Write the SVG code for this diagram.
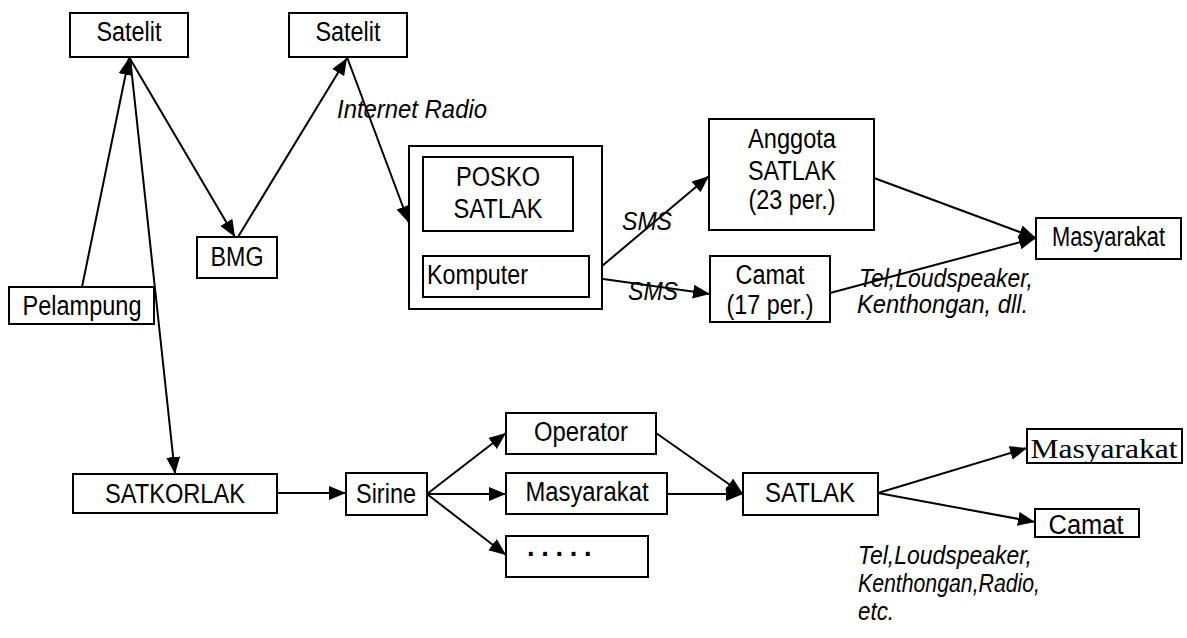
<svg xmlns="http://www.w3.org/2000/svg" width="1187" height="638" viewBox="0 0 1187 638">
  <style>
    .box { fill: #fff; stroke: #000; stroke-width: 2; }
    .t { font-family: "Liberation Sans", Arial, sans-serif; font-size: 27px; fill: #000; text-anchor: middle; }
    .ts { font-family: "Liberation Serif", "Times New Roman", serif; font-size: 28px; fill: #000; text-anchor: middle; }
    .lbl { font-family: "Liberation Sans", Arial, sans-serif; font-size: 25px; font-style: italic; fill: #000; }
    .dots { font-family: "Liberation Sans", Arial, sans-serif; font-size: 27px; font-weight: bold; fill: #000; }
    .edge { stroke: #000; stroke-width: 2; fill: none; marker-end: url(#arrow); }
  </style>
  <defs>
    <marker id="arrow" markerUnits="userSpaceOnUse" markerWidth="18" markerHeight="15" refX="17" refY="7" orient="auto">
      <path d="M0,0 L17,7 L0,14 z" fill="#000"/>
    </marker>
  </defs>
  <rect width="1187" height="638" fill="#fff"/>

  <!-- connectors -->
  <g id="connectors">
    <line class="edge" x1="82" y1="287" x2="129" y2="58"/>
    <line class="edge" x1="129" y1="57" x2="235" y2="237"/>
    <line class="edge" x1="238" y1="237" x2="347" y2="58"/>
    <line class="edge" x1="347" y1="57" x2="409" y2="223"/>
    <line class="edge" x1="130" y1="57" x2="175" y2="474"/>
    <line class="edge" x1="589" y1="277" x2="709" y2="176"/>
    <line class="edge" x1="589" y1="277" x2="710" y2="294"/>
    <line class="edge" x1="874" y1="178" x2="1036" y2="238"/>
    <line class="edge" x1="830" y1="293" x2="1036" y2="238"/>
    <line class="edge" x1="277" y1="493" x2="346" y2="493"/>
    <line class="edge" x1="427" y1="494" x2="506" y2="433"/>
    <line class="edge" x1="427" y1="494" x2="506" y2="494"/>
    <line class="edge" x1="427" y1="494" x2="506" y2="555"/>
    <line class="edge" x1="656" y1="433" x2="743" y2="494"/>
    <line class="edge" x1="667" y1="494" x2="743" y2="494"/>
    <line class="edge" x1="878" y1="493" x2="1027" y2="448"/>
    <line class="edge" x1="878" y1="493" x2="1035" y2="522"/>
  </g>

  <!-- nodes -->
  <g id="satelit1">
    <rect class="box" x="70" y="13" width="118" height="44"/>
    <text class="t" x="129" y="41" textLength="65" lengthAdjust="spacingAndGlyphs">Satelit</text>
  </g>
  <g id="satelit2">
    <rect class="box" x="289" y="13" width="118" height="44"/>
    <text class="t" x="348" y="41" textLength="65" lengthAdjust="spacingAndGlyphs">Satelit</text>
  </g>
  <g id="bmg">
    <rect class="box" x="197" y="237" width="80" height="41"/>
    <text class="t" x="237" y="266" textLength="53" lengthAdjust="spacingAndGlyphs">BMG</text>
  </g>
  <g id="pelampung">
    <rect class="box" x="9" y="287" width="145" height="37"/>
    <text class="t" x="82" y="315" textLength="119" lengthAdjust="spacingAndGlyphs">Pelampung</text>
  </g>
  <g id="posko">
    <rect class="box" x="409" y="146" width="193" height="163"/>
    <rect class="box" x="423" y="157" width="150" height="74"/>
    <text class="t" x="498" y="186" textLength="84" lengthAdjust="spacingAndGlyphs">POSKO</text>
    <text class="t" x="498" y="218" textLength="89" lengthAdjust="spacingAndGlyphs">SATLAK</text>
  </g>
  <g id="komputer">
    <rect class="box" x="423" y="256" width="166" height="41"/>
    <text class="t" x="477.5" y="284" textLength="101" lengthAdjust="spacingAndGlyphs">Komputer</text>
  </g>
  <g id="anggota">
    <rect class="box" x="709" y="119" width="165" height="111"/>
    <text class="t" x="792" y="148" textLength="88" lengthAdjust="spacingAndGlyphs">Anggota</text>
    <text class="t" x="792" y="180" textLength="88" lengthAdjust="spacingAndGlyphs">SATLAK</text>
    <text class="t" x="792" y="209" textLength="87" lengthAdjust="spacingAndGlyphs">(23 per.)</text>
  </g>
  <g id="camat-top">
    <rect class="box" x="710" y="256" width="120" height="66"/>
    <text class="t" x="770" y="284" textLength="69" lengthAdjust="spacingAndGlyphs">Camat</text>
    <text class="t" x="770" y="314" textLength="87" lengthAdjust="spacingAndGlyphs">(17 per.)</text>
  </g>
  <g id="masyarakat-top">
    <rect class="box" x="1036" y="218" width="145" height="41"/>
    <text class="t" x="1108.5" y="246" font-size="26" textLength="113" lengthAdjust="spacingAndGlyphs">Masyarakat</text>
  </g>
  <g id="satkorlak">
    <rect class="box" x="73" y="474" width="204" height="39"/>
    <text class="t" x="175" y="503" textLength="140" lengthAdjust="spacingAndGlyphs">SATKORLAK</text>
  </g>
  <g id="sirine">
    <rect class="box" x="346" y="473" width="81" height="42"/>
    <text class="t" x="386" y="503" textLength="60" lengthAdjust="spacingAndGlyphs">Sirine</text>
  </g>
  <g id="operator">
    <rect class="box" x="506" y="413" width="150" height="41"/>
    <text class="t" x="581" y="441" textLength="94" lengthAdjust="spacingAndGlyphs">Operator</text>
  </g>
  <g id="masyarakat-mid">
    <rect class="box" x="506" y="473" width="161" height="41"/>
    <text class="t" x="587" y="501" textLength="123" lengthAdjust="spacingAndGlyphs">Masyarakat</text>
  </g>
  <g id="lainnya">
    <rect class="box" x="506" y="536" width="142" height="41"/>
    <text class="dots" x="527" y="563" textLength="66" lengthAdjust="spacing">· · · · ·</text>
  </g>
  <g id="satlak">
    <rect class="box" x="743" y="473" width="135" height="42"/>
    <text class="t" x="810" y="502" textLength="90" lengthAdjust="spacingAndGlyphs">SATLAK</text>
  </g>
  <g id="masyarakat-bottom">
    <rect class="box" x="1027" y="429" width="155" height="34"/>
    <text class="ts" x="1104" y="458" textLength="147" lengthAdjust="spacingAndGlyphs">Masyarakat</text>
  </g>
  <g id="camat-bottom">
    <rect class="box" x="1035" y="509" width="104" height="28"/>
    <text class="t" x="1086" y="534" textLength="75" lengthAdjust="spacingAndGlyphs">Camat</text>
  </g>

  <!-- channel labels -->
  <g id="labels">
    <text class="lbl" x="337" y="118" textLength="150" lengthAdjust="spacingAndGlyphs">Internet Radio</text>
    <text class="lbl" x="622" y="230" textLength="50" lengthAdjust="spacingAndGlyphs">SMS</text>
    <text class="lbl" x="628" y="300" textLength="50" lengthAdjust="spacingAndGlyphs">SMS</text>
    <text class="lbl" x="859" y="287" textLength="174" lengthAdjust="spacingAndGlyphs">Tel,Loudspeaker,</text>
    <text class="lbl" x="857" y="313" textLength="171" lengthAdjust="spacingAndGlyphs">Kenthongan, dll.</text>
    <text class="lbl" x="858" y="564" textLength="174" lengthAdjust="spacingAndGlyphs">Tel,Loudspeaker,</text>
    <text class="lbl" x="858" y="592" textLength="182" lengthAdjust="spacingAndGlyphs">Kenthongan,Radio,</text>
    <text class="lbl" x="858" y="620" textLength="36" lengthAdjust="spacingAndGlyphs">etc.</text>
  </g>
</svg>
